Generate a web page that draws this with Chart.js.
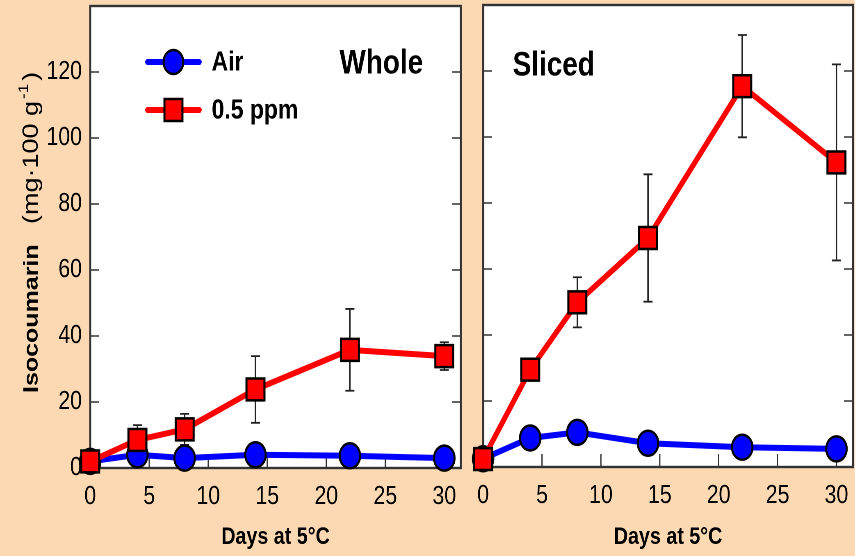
<!DOCTYPE html>
<html>
<head>
<meta charset="utf-8">
<script src="https://cdn.jsdelivr.net/npm/chart.js@4.4.1/dist/chart.umd.min.js"></script>
<style>
  body { margin: 0; background: #FCD9B3; overflow: hidden; }
  .panel { position: absolute; top: 0; transform: scaleX(0.82); transform-origin: 0 0; }
</style>
</head>
<body>
<div class="panel" style="left:0px"><canvas id="whole" width="573" height="556"></canvas></div>
<div class="panel" style="left:470px"><canvas id="sliced" width="470" height="556"></canvas></div>
<script>
// days of storage at 5°C
var days = [0, 4, 8, 14, 22, 30];
var xTicks = [0, 5, 10, 15, 20, 25, 30];
var yTicks = [0, 20, 40, 60, 80, 100, 120];

// isocoumarin, mg per 100 g
var wholeAir = [2.0, 4.0, 3.0, 4.0, 3.7, 3.0];
var wholeAirErr = [0.3, 0.8, 0.5, 0.5, 0.5, 0.4];
var wholeOzone = [2.0, 8.5, 11.7, 23.8, 35.8, 33.9];
var wholeOzoneErr = [0.5, 4.5, 4.7, 10.1, 12.4, 4.2];

var slicedAir = [2.5, 8.8, 10.5, 7.2, 6.0, 5.5];
var slicedAirErr = [0.3, 1.0, 1.0, 1.0, 0.8, 0.8];
var slicedOzone = [2.4, 29.5, 49.9, 69.4, 115.4, 92.3];
var slicedOzoneErr = [0.5, 2.5, 7.6, 19.3, 15.5, 29.7];

var seriesNames = ['Air', '0.5 ppm'];

var FONT = "'Liberation Sans', Arial, sans-serif";
Chart.defaults.font.family = FONT;
Chart.defaults.color = '#000';

function points(vals){
  var out = [];
  for (var i = 0; i < days.length; i++) out.push({x: days[i], y: vals[i]});
  return out;
}

// white plot area, frame, inner tick marks and error bars
var framePlugin = {
  id: 'frame',
  beforeDraw: function(chart){
    var a = chart.chartArea, ctx = chart.ctx;
    ctx.save();
    ctx.fillStyle = '#fff';
    ctx.fillRect(a.left, a.top, a.right - a.left, a.bottom - a.top);
    ctx.restore();
  },
  beforeDatasetsDraw: function(chart){
    var a = chart.chartArea, ctx = chart.ctx;
    var xs = chart.scales.x, ys = chart.scales.y;
    ctx.save();
    ctx.strokeStyle = '#333';
    ctx.lineWidth = 1.5;
    ctx.beginPath();
    yTicks.forEach(function(v){
      var py = ys.getPixelForValue(v);
      ctx.moveTo(a.left, py); ctx.lineTo(a.left + 11, py);
      ctx.moveTo(a.right, py); ctx.lineTo(a.right - 11, py);
    });
    xTicks.forEach(function(v){
      var px = xs.getPixelForValue(v);
      ctx.moveTo(px, a.bottom); ctx.lineTo(px, a.bottom - 13);
    });
    ctx.stroke();

    ctx.lineWidth = 2.4;
    ctx.strokeRect(a.left, a.top, a.right - a.left, a.bottom - a.top);

    // error bars
    ctx.strokeStyle = '#222';
    ctx.lineWidth = 1.8;
    var errs = chart.options.plugins.frame.errors;
    chart.data.datasets.forEach(function(ds, k){
      var e = errs[k];
      ds.data.forEach(function(p, i){
        var px = xs.getPixelForValue(p.x);
        var top = ys.getPixelForValue(p.y + e[i]);
        var bot = ys.getPixelForValue(p.y - e[i]);
        ctx.beginPath();
        ctx.moveTo(px, top); ctx.lineTo(px, bot);
        ctx.moveTo(px - 5.5, top); ctx.lineTo(px + 5.5, top);
        ctx.moveTo(px - 5.5, bot); ctx.lineTo(px + 5.5, bot);
        ctx.stroke();
      });
    });
    ctx.restore();
  },
  afterDraw: function(chart){
    var o = chart.options.plugins.frame, ctx = chart.ctx;
    ctx.save();
    ctx.fillStyle = '#000';
    ctx.textBaseline = 'middle';
    ctx.textAlign = 'left';
    ctx.font = 'bold 34px ' + FONT;
    ctx.fillText(o.label, o.labelX, o.labelY);

    if (o.legend) {
      var rows = [
        {y: 62, color: '#0000FF', style: 'circle', r: 12, text: seriesNames[0]},
        {y: 110, color: '#FF0000', style: 'rect', r: 15.5, text: seriesNames[1]}
      ];
      rows.forEach(function(row){
        ctx.strokeStyle = row.color;
        ctx.lineWidth = 6;
        ctx.lineCap = 'round';
        ctx.beginPath();
        ctx.moveTo(180, row.y); ctx.lineTo(243, row.y);
        ctx.stroke();
        ctx.fillStyle = row.color;
        ctx.strokeStyle = '#000';
        ctx.lineWidth = 2.5;
        Chart.helpers.drawPoint(ctx, {pointStyle: row.style, radius: row.r, borderWidth: 2.5}, 211.5, row.y);
        ctx.fillStyle = '#000';
        ctx.font = 'bold 28px ' + FONT;
        ctx.fillText(row.text, 258, row.y + 1);
      });
    }

    if (o.yTitle) {
      ctx.translate(46, 0);
      ctx.rotate(-Math.PI / 2);
      ctx.textBaseline = 'alphabetic';
      ctx.font = 'bold 25px ' + FONT;
      ctx.fillText('Isocoumarin', -393, 0);
      ctx.font = '27px ' + FONT;
      var s = '(mg\u00B7100 g';
      var x0 = -224;
      ctx.fillText(s, x0, 0);
      x0 += ctx.measureText(s).width + 2;
      ctx.font = '17px ' + FONT;
      ctx.fillText('-1', x0, -12);
      x0 += ctx.measureText('-1').width;
      ctx.font = '27px ' + FONT;
      ctx.fillText(')', x0 + 3, 0);
    }
    ctx.restore();
  }
};

function makePanel(id, air, airErr, ozone, ozoneErr, cfg){
  var ctx = document.getElementById(id);
  return new Chart(ctx, {
    type: 'line',
    data: {
      datasets: [{
        label: seriesNames[1],
        data: points(ozone),
        borderColor: '#FF0000',
        backgroundColor: '#FF0000',
        borderWidth: 6,
        pointStyle: 'rect',
        pointRadius: 15.5,
        pointBorderColor: '#000',
        pointBorderWidth: 2.5,
        clip: false
      }, {
        label: seriesNames[0],
        data: points(air),
        borderColor: '#0000FF',
        backgroundColor: '#0000FF',
        borderWidth: 6,
        pointStyle: 'circle',
        pointRadius: 12.5,
        pointBorderColor: '#000',
        pointBorderWidth: 2.5,
        clip: false
      }]
    },
    options: {
      responsive: false,
      animation: false,
      devicePixelRatio: 2,
      events: [],
      layout: { padding: cfg.padding, autoPadding: false },
      scales: {
        x: {
          type: 'linear',
          min: 0,
          max: 31.4,
          grid: { display: false, drawTicks: false },
          border: { display: false },
          afterBuildTicks: function(scale){
            scale.ticks = xTicks.map(function(v){ return {value: v}; });
          },
          afterFit: function(scale){
            scale.height = cfg.xHeight;
            scale.paddingLeft = 0; scale.paddingRight = 0;
          },
          ticks: { font: { size: 26 }, padding: 13, color: '#000', maxRotation: 0 },
          title: { display: true, text: 'Days at 5\u00B0C', font: { size: 24, weight: 'bold' }, color: '#000', padding: { top: 0, bottom: 4 } }
        },
        y: {
          display: cfg.yLabels,
          min: 0,
          max: 140,
          grid: { display: false, drawTicks: false },
          border: { display: false },
          afterBuildTicks: function(scale){
            scale.ticks = yTicks.map(function(v){ return {value: v}; });
          },
          afterFit: function(scale){
            scale.width = cfg.yLabels ? 110 : 0;
            scale.paddingTop = 0; scale.paddingBottom = 0;
          },
          ticks: { font: { size: 26 }, padding: 10, color: '#000' }
        }
      },
      plugins: {
        legend: { display: false },
        tooltip: { enabled: false },
        frame: {
          errors: [ozoneErr, airErr],
          label: cfg.label,
          labelX: cfg.labelX,
          labelY: cfg.labelY,
          legend: cfg.legend,
          yTitle: cfg.yLabels
        }
      }
    },
    plugins: [framePlugin]
  });
}

makePanel('whole', wholeAir, wholeAirErr, wholeOzone, wholeOzoneErr, {
  padding: { left: 0, right: 11, top: 6, bottom: 0 },
  xHeight: 88, yLabels: true, legend: true,
  label: 'Whole', labelX: 414, labelY: 64
});

makePanel('sliced', slicedAir, slicedAirErr, slicedOzone, slicedOzoneErr, {
  padding: { left: 16, right: 3, top: 5, bottom: 0 },
  xHeight: 89, yLabels: false, legend: false,
  label: 'Sliced', labelX: 52, labelY: 66
});
</script>
</body>
</html>
